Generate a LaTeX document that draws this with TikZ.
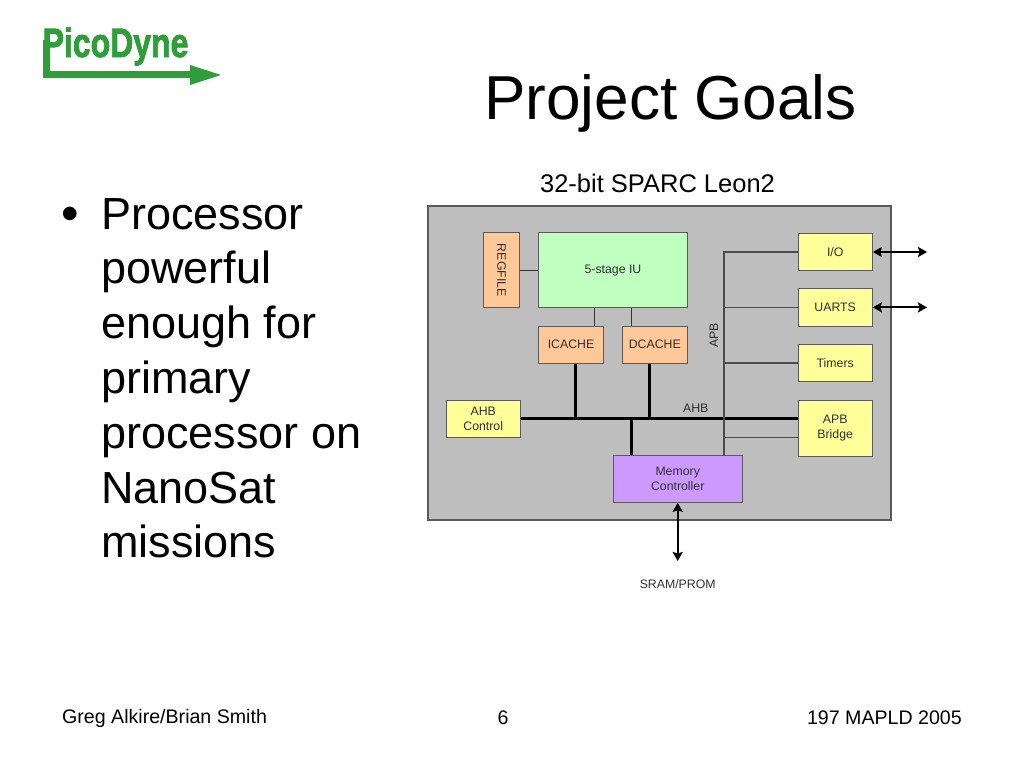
\documentclass[tikz,border=0pt]{standalone}
\usepackage{fontspec}
\setmainfont{Liberation Sans}
\newfontfamily\logofont[FakeBold=2.2,UprightFont={* Bold}]{Liberation Sans}
\usetikzlibrary{arrows.meta}
\definecolor{panelgray}{HTML}{BEBEBE}
\definecolor{edgegray}{HTML}{5A5A5A}
\definecolor{iugreen}{HTML}{C0FFC0}
\definecolor{cacheorange}{HTML}{FFC898}
\definecolor{ioyellow}{HTML}{FFFF99}
\definecolor{memviolet}{HTML}{CC99FF}
\definecolor{logogreen}{HTML}{2F9E3A}
\definecolor{inktext}{HTML}{303030}
\tikzset{
  x=1pt,y=-1pt,
  block/.style={draw=edgegray,line width=1pt,inner sep=0pt,align=center,text=inktext,font=\fontsize{12.3}{15}\selectfont},
  greenblock/.style={block,fill=iugreen},
  orangeblock/.style={block,fill=cacheorange},
  yellowblock/.style={block,fill=ioyellow},
  violetblock/.style={block,fill=memviolet},
  thinlink/.style={draw=black!80,line width=1.5pt},
  apblink/.style={draw=black!70,line width=1.5pt},
  buslink/.style={draw=black,line width=3pt},
  extlink/.style={draw=black,line width=2pt,{Stealth[length=9pt,width=10pt,inset=1.5pt]}-{Stealth[length=9pt,width=10pt,inset=1.5pt]}},
  buslabel/.style={inner sep=0pt,text=inktext,font=\fontsize{12.3}{14}\selectfont},
  footer/.style={inner sep=0pt,anchor=base,font=\fontsize{19.6}{23}\selectfont},
}
\begin{document}
\begin{tikzpicture}
\useasboundingbox (0,0) rectangle (1024,768);
% logo
\node[inner sep=0pt,anchor=base west,text=logogreen,font=\fontsize{41}{41}\selectfont\logofont,xscale=0.78] (logotext) at (42.5,57) {PicoDyne};
\fill[logogreen] (43,40) -- (50,40) -- (50,71) -- (190,71) -- (190,65) -- (221,75) -- (190,85) -- (190,78) -- (43,78) -- cycle;
% title and body
\node[inner sep=0pt,anchor=base,font=\fontsize{62.1}{70}\selectfont] (title) at (670.5,119) {Project Goals};
\node[inner sep=0pt,anchor=base,font=\fontsize{50}{54}\selectfont] (bullet) at (70,230) {•};
\node[inner sep=0pt,anchor=base west,align=left,font=\fontsize{45}{54.8}\selectfont] (body) at (101,557.8) {Processor\\powerful\\enough for\\primary\\processor on\\NanoSat\\missions};
\node[inner sep=0pt,anchor=base,font=\fontsize{25.5}{28}\selectfont] (caption) at (657.5,192) {32-bit SPARC Leon2};
% panel
\node[draw=edgegray,line width=1.2pt,fill=panelgray,inner sep=0pt,minimum width=463pt,minimum height=314pt] (panel) at (659.5,363) {};
% blocks
\node[orangeblock,minimum width=36.7pt,minimum height=74.7pt] (regfile) at (501.6,270.3) {\rotatebox{-90}{REGFILE}};
\node[greenblock,minimum width=148.6pt,minimum height=74.7pt] (iu) at (613,270.3) {5-stage IU};
\node[orangeblock,minimum width=64.6pt,minimum height=37pt] (icache) at (571,344.5) {ICACHE};
\node[orangeblock,minimum width=65pt,minimum height=37pt] (dcache) at (654.8,344.5) {DCACHE};
\node[yellowblock,minimum width=74.3pt,minimum height=37.4pt] (io) at (835.2,252) {I/O};
\node[yellowblock,minimum width=74.3pt,minimum height=37.4pt] (uarts) at (835.2,307.4) {UARTS};
\node[yellowblock,minimum width=74.3pt,minimum height=37.4pt] (timers) at (835.2,363) {Timers};
\node[yellowblock,minimum width=74.3pt,minimum height=56pt] (bridge) at (835.2,428) {APB\\Bridge};
\node[yellowblock,minimum width=74.3pt,minimum height=37.3pt] (ahbctl) at (483.2,418.7) {AHB\\Control};
\node[violetblock,minimum width=129.3pt,minimum height=46.6pt] (mem) at (677.7,479) {Memory\\Controller};
% named connection points
\coordinate (apbtop) at (724,252);
\coordinate (apbbot) at (724,455.7);
\coordinate (busI) at (575.7,418.7);
\coordinate (busD) at (649.7,418.7);
\coordinate (busM) at (631.3,418.7);
\coordinate (ioend) at (927,252);
\coordinate (uartsend) at (927,307.4);
\coordinate (sramend) at (677.7,561);
\coordinate (iucacheI) at (594.3,307.7);
\coordinate (iucacheD) at (631.3,307.7);
\coordinate (apbbridge) at (724,437);
% thin links
\draw[thinlink] (regfile.east) -- (iu.west);
\draw[thinlink] (iucacheI) -- (iucacheI |- icache.north);
\draw[thinlink] (iucacheD) -- (iucacheD |- dcache.north);
% AHB bus
\draw[buslink] (ahbctl.east) -- (ahbctl.east -| bridge.west);
\draw[buslink] (busI) -- (icache.south -| busI);
\draw[buslink] (busD) -- (dcache.south -| busD);
\draw[buslink] (busM) -- (mem.north -| busM);
% APB bus
\draw[apblink] (apbbot) -- (apbtop) -- (io.west);
\draw[apblink] (apbtop |- uarts.west) -- (uarts.west);
\draw[apblink] (apbtop |- timers.west) -- (timers.west);
\draw[apblink,line width=1pt] (apbbridge) -- (apbbridge -| bridge.west);
% external arrows
\draw[extlink] (io.east) -- (ioend);
\draw[extlink] (uarts.east) -- (uartsend);
\draw[extlink] (mem.south) -- (sramend);
% labels
\node[buslabel] (ahblabel) at (695.7,408.5) {AHB};
\node[buslabel,rotate=90] (apblabel) at (714,335.5) {APB};
\node[buslabel] (sram) at (677.7,584) {SRAM/PROM};
% footer
\node[footer,anchor=base west] (footl) at (62,723) {Greg Alkire/Brian Smith};
\node[footer] (footc) at (503,724) {6};
\node[footer,anchor=base east] (footr) at (962,724) {197 MAPLD 2005};
\end{tikzpicture}
\end{document}
